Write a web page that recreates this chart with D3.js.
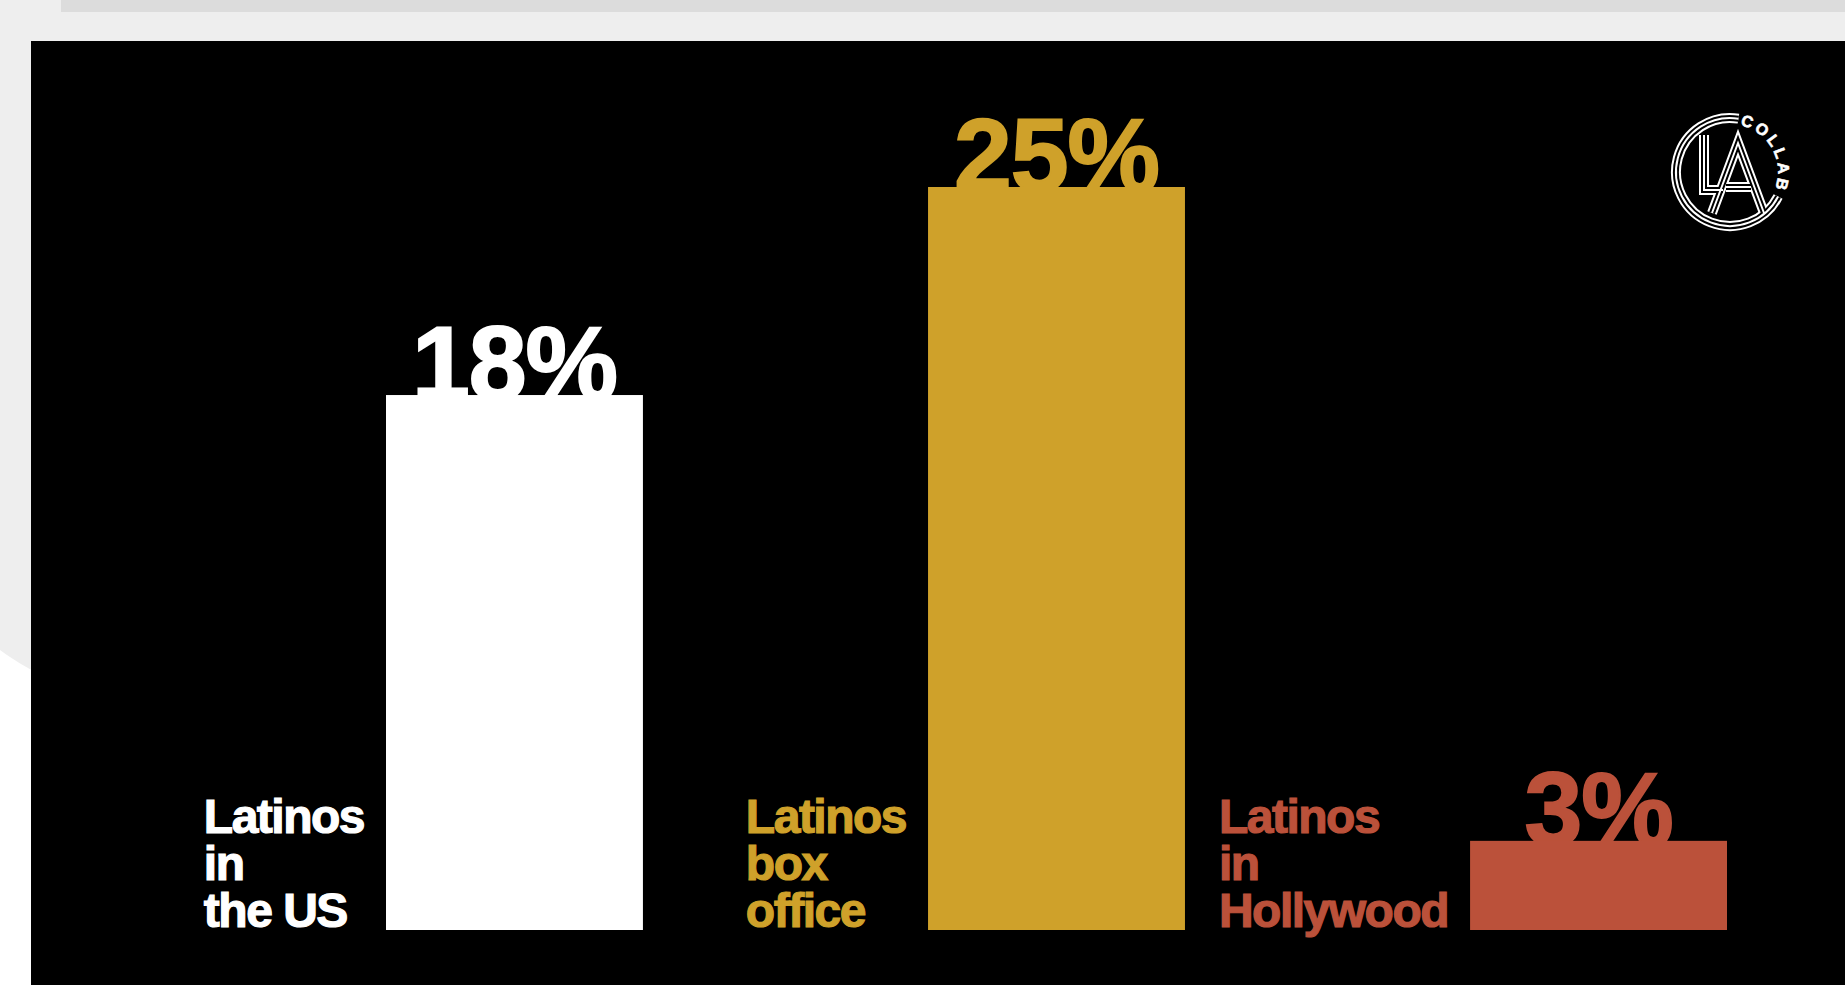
<!DOCTYPE html>
<html>
<head>
<meta charset="utf-8">
<script src="https://cdn.jsdelivr.net/npm/d3@7"></script>
<style>
  body { margin: 0; background: #eeeeee; overflow: hidden; }
  svg { display: block; }
</style>
</head>
<body>
<svg id="chart" width="1845" height="985"></svg>
<script>
const categories = ['us', 'boxoffice', 'hollywood'];
const values = [18, 25, 3];
const valueLabels = ['18%', '25%', '3%'];
const labelLines = [
  ['Latinos', 'in', 'the US'],
  ['Latinos', 'box', 'office'],
  ['Latinos', 'in', 'Hollywood']
];
const colours = ['#ffffff', '#cfa12a', '#bb513a'];

const svg = d3.select('#chart');
const font = '"Liberation Sans", Arial, Helvetica, sans-serif';

// page background bits
svg.append('rect').attr('width', 1845).attr('height', 985).attr('fill', '#eeeeee');
svg.append('rect').attr('x', 0).attr('y', 620).attr('width', 40).attr('height', 365).attr('fill', '#ffffff');
svg.append('circle').attr('cx', 150).attr('cy', 450).attr('r', 250).attr('fill', '#eeeeee');
svg.append('rect').attr('x', 61).attr('y', 0).attr('width', 1784).attr('height', 12).attr('fill', '#dcdcdc');
svg.append('rect').attr('x', 31).attr('y', 41).attr('width', 1814).attr('height', 944).attr('fill', '#000');

const x = d3.scaleBand().domain(categories).range([386, 1727]).paddingInner(0.526);
const y = d3.scaleLinear().domain([0, 25]).range([930, 187]);

const chart = svg.append('g');

// category labels, left of each bar, bottom aligned
const lineH = 47;
for (let i = 0; i < categories.length; i++) {
  const lines = labelLines[i];
  const t = chart.append('text')
    .style('font-family', font)
    .style('font-weight', 700)
    .style('font-size', '48px')
    .style('letter-spacing', '-1.5px')
    .attr('fill', colours[i])
    .attr('stroke', colours[i])
    .attr('stroke-width', 1.2);
  lines.forEach((l, j) => {
    t.append('tspan')
      .attr('y', y(0) - 3 - (lines.length - 1 - j) * lineH)
      .text(l);
  });
  let w = 0;
  t.selectAll('tspan').each(function () { w = Math.max(w, this.getComputedTextLength()); });
  t.selectAll('tspan').attr('x', x(categories[i]) - 22 - w);
}

// value labels sit behind the bar tops
chart.selectAll('.val')
  .data(values)
  .enter().append('text')
  .attr('class', 'val')
  .attr('x', (d, i) => x(categories[i]) + x.bandwidth() / 2)
  .attr('y', d => y(d) + 4)
  .attr('text-anchor', 'middle')
  .style('font-family', font)
  .style('font-weight', 700)
  .style('font-size', '104px')
  .style('letter-spacing', '-1px')
  .attr('fill', (d, i) => colours[i])
  .attr('stroke', (d, i) => colours[i])
  .attr('stroke-width', 2)
  .text((d, i) => valueLabels[i]);

chart.selectAll('.bar')
  .data(values)
  .enter().append('rect')
  .attr('class', 'bar')
  .attr('x', (d, i) => x(categories[i]))
  .attr('y', d => y(d))
  .attr('width', x.bandwidth())
  .attr('height', d => y(0) - y(d))
  .attr('fill', (d, i) => colours[i]);

// LA Collab logo
const logo = svg.append('g');
const cx = 1730, cy = 172, r = 54;
const rad = a => (a - 90) * Math.PI / 180;
const ring = d3.path();
ring.moveTo(cx + Math.cos(rad(117)) * r, cy + Math.sin(rad(117)) * r);
ring.arc(cx, cy, r, rad(117), rad(369), false);

const lettersL = d3.line()([[1704, 135], [1704, 190], [1723, 190]]);
const lettersA = d3.line()([[1712, 213], [1738, 143], [1764, 213]]);
const crossA = d3.line()([[1726, 187], [1751, 187]]);

[[10, '#fff'], [6, '#000'], [2, '#fff']].forEach(([sw, col]) => {
  [ring.toString(), lettersL, lettersA, crossA].forEach(d => {
    logo.append('path')
      .attr('d', d)
      .attr('fill', 'none')
      .attr('stroke', col)
      .attr('stroke-width', sw)
      .attr('stroke-linejoin', 'miter');
  });
});

const tp = d3.path();
const tr = 48;
tp.moveTo(cx + Math.cos(rad(12)) * tr, cy + Math.sin(rad(12)) * tr);
tp.arc(cx, cy, tr, rad(12), rad(115), false);
logo.append('path').attr('id', 'collabArc').attr('d', tp.toString()).attr('fill', 'none');
logo.append('text')
  .style('font-family', font)
  .style('font-weight', 700)
  .style('font-size', '16px')
  .attr('fill', '#fff')
  .attr('stroke', '#fff')
  .attr('stroke-width', 0.6)
  .append('textPath')
  .attr('href', '#collabArc')
  .attr('textLength', 82)
  .attr('lengthAdjust', 'spacing')
  .text('COLLAB');
</script>
</body>
</html>
